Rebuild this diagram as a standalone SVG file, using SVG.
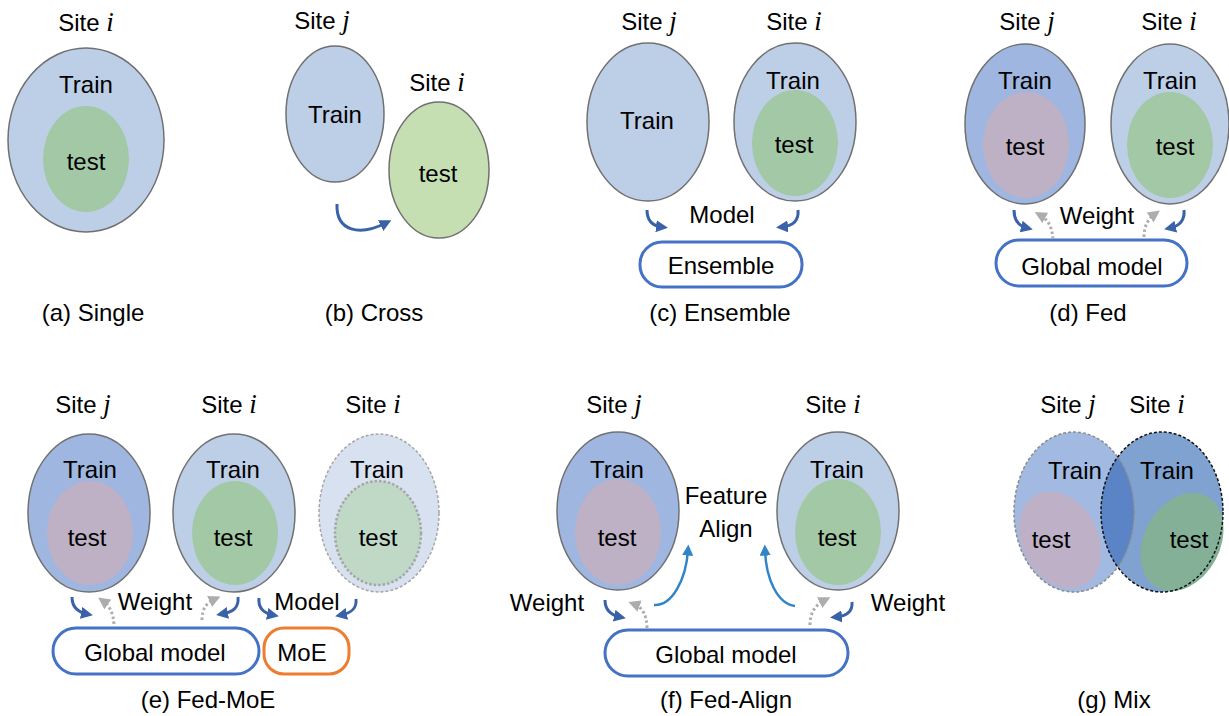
<svg xmlns="http://www.w3.org/2000/svg" width="1229" height="716" viewBox="0 0 1229 716">
<style>
text{font-family:"Liberation Sans",Arial,sans-serif;font-size:24px;fill:#000;text-anchor:middle}
.m{font-family:"Liberation Serif","Times New Roman",serif;font-style:italic;font-size:27px}
.sl{fill:#BDCFE7;stroke:#707070;stroke-width:1.5}
.sd{fill:#9EB6E0;stroke:#707070;stroke-width:1.5}
.tg{fill:#A3C8A6}
.tp{fill:#BEB1C6}
.box{fill:#fff;stroke:#4472C4;stroke-width:3}
.ba{fill:none;stroke:#3A62A8;stroke-width:3;marker-end:url(#ab)}
.ga{fill:none;stroke:#ADADAD;stroke-width:3;stroke-dasharray:2.5 2.5;marker-end:url(#ag)}
.la{fill:none;stroke:#3084C8;stroke-width:2.5;marker-end:url(#al)}
</style>
<defs>
<marker id="ab" viewBox="0 0 10 10" refX="5" refY="5" markerWidth="4" markerHeight="4" orient="auto" markerUnits="strokeWidth"><path d="M0,0 L10,5 L0,10 z" fill="#3A62A8"/></marker>
<marker id="ag" viewBox="0 0 10 10" refX="5" refY="5" markerWidth="4" markerHeight="4" orient="auto" markerUnits="strokeWidth"><path d="M0,0 L10,5 L0,10 z" fill="#ADADAD"/></marker>
<marker id="al" viewBox="0 0 10 10" refX="5" refY="5" markerWidth="4.5" markerHeight="4.5" orient="auto" markerUnits="strokeWidth"><path d="M0,0 L10,5 L0,10 z" fill="#3084C8"/></marker>
<clipPath id="cj"><ellipse cx="1074" cy="512" rx="60" ry="80"/></clipPath>
</defs>

<g id="panel-a">
<text x="86" y="31">Site <tspan class="m">i</tspan></text>
<ellipse class="sl" cx="86" cy="140" rx="78" ry="92"/>
<ellipse class="tg" cx="86" cy="159" rx="43" ry="53"/>
<text x="86" y="93">Train</text>
<text x="86" y="170">test</text>
<text x="93" y="321">(a) Single</text>
</g>

<g id="panel-b">
<text x="322" y="29">Site <tspan class="m">j</tspan></text>
<ellipse class="sl" cx="335" cy="114" rx="49" ry="68"/>
<text x="335" y="123">Train</text>
<text x="437" y="91">Site <tspan class="m">i</tspan></text>
<ellipse cx="439" cy="170" rx="50" ry="68" fill="#C5DFB3" stroke="#707070" stroke-width="1.5"/>
<text x="438" y="182">test</text>
<text x="374" y="321">(b) Cross</text>
</g>

<g id="panel-c">
<text x="649" y="30">Site <tspan class="m">j</tspan></text>
<text x="794" y="30">Site <tspan class="m">i</tspan></text>
<ellipse class="sl" cx="648" cy="122" rx="61" ry="79"/>
<text x="647" y="129">Train</text>
<ellipse class="sl" cx="795" cy="122" rx="61" ry="79"/>
<ellipse class="tg" cx="795" cy="143" rx="43" ry="53"/>
<text x="793" y="89">Train</text>
<text x="794" y="153">test</text>
<text x="722" y="223">Model</text>
<rect class="box" x="640" y="242" width="162" height="45" rx="22"/>
<text x="721" y="274">Ensemble</text>
<text x="720" y="321">(c) Ensemble</text>
</g>

<g id="panel-d">
<text x="1027" y="30">Site <tspan class="m">j</tspan></text>
<text x="1169" y="30">Site <tspan class="m">i</tspan></text>
<ellipse class="sd" cx="1025" cy="124" rx="60" ry="80"/>
<ellipse class="tp" cx="1026" cy="145" rx="43" ry="53"/>
<text x="1025" y="89">Train</text>
<text x="1025" y="155">test</text>
<ellipse class="sl" cx="1170" cy="124" rx="59" ry="80"/>
<ellipse class="tg" cx="1170" cy="145" rx="43" ry="53"/>
<text x="1170" y="89">Train</text>
<text x="1175" y="155">test</text>
<text x="1097" y="224">Weight</text>
<rect class="box" x="996" y="240" width="191" height="46" rx="23"/>
<text x="1092" y="275">Global model</text>
<text x="1088" y="321">(d) Fed</text>
</g>

<g id="panel-e">
<text x="83" y="413">Site <tspan class="m">j</tspan></text>
<text x="229" y="413">Site <tspan class="m">i</tspan></text>
<text x="373" y="413">Site <tspan class="m">i</tspan></text>
<ellipse class="sd" cx="89" cy="513" rx="61" ry="79"/>
<ellipse class="tp" cx="90" cy="533" rx="43" ry="52"/>
<text x="90" y="478">Train</text>
<text x="87" y="546">test</text>
<ellipse class="sl" cx="234" cy="513" rx="61" ry="79"/>
<ellipse class="tg" cx="235" cy="533" rx="43" ry="52"/>
<text x="233" y="478">Train</text>
<text x="233" y="546">test</text>
<ellipse cx="379" cy="513" rx="60" ry="79" fill="#D7E1F0" stroke="#A6A6A6" stroke-width="1.5" stroke-dasharray="3 2"/>
<ellipse cx="378" cy="533" rx="43" ry="52" fill="#C0D8C6" stroke="#A6A6A6" stroke-width="2.5" stroke-dasharray="2.5 2"/>
<text x="377" y="478">Train</text>
<text x="378" y="546">test</text>
<text x="155" y="610">Weight</text>
<text x="307" y="610">Model</text>
<rect class="box" x="53" y="628" width="206" height="46" rx="23"/>
<text x="155" y="661">Global model</text>
<rect x="264" y="628" width="85" height="46" rx="20" fill="#fff" stroke="#ED7D31" stroke-width="3"/>
<text x="302" y="661">MoE</text>
<text x="208" y="708">(e) Fed-MoE</text>
</g>

<g id="panel-f">
<text x="614" y="413">Site <tspan class="m">j</tspan></text>
<text x="833" y="413">Site <tspan class="m">i</tspan></text>
<ellipse class="sd" cx="618" cy="511" rx="61" ry="79"/>
<ellipse class="tp" cx="618" cy="532" rx="43" ry="53"/>
<text x="617" y="478">Train</text>
<text x="617" y="546">test</text>
<ellipse class="sl" cx="838" cy="511" rx="61" ry="79"/>
<ellipse class="tg" cx="838" cy="532" rx="43" ry="53"/>
<text x="837" y="478">Train</text>
<text x="837" y="546">test</text>
<text x="726" y="504">Feature</text>
<text x="726" y="537">Align</text>
<text x="547" y="611">Weight</text>
<text x="908" y="611">Weight</text>
<rect class="box" x="605" y="630" width="243" height="46" rx="23"/>
<text x="726" y="663">Global model</text>
<text x="726" y="708">(f) Fed-Align</text>
</g>

<g id="panel-g">
<text x="1068" y="413">Site <tspan class="m">j</tspan></text>
<text x="1157" y="413">Site <tspan class="m">i</tspan></text>
<ellipse cx="1074" cy="512" rx="60" ry="80" fill="#A2B9E1"/>
<ellipse cx="1162" cy="512" rx="61" ry="80" fill="#7FA2D1"/>
<ellipse cx="1162" cy="512" rx="61" ry="80" fill="#5B84C6" clip-path="url(#cj)"/>
<ellipse cx="1060" cy="540" rx="38" ry="51" transform="rotate(-28 1060 540)" fill="#BEB1C7"/>
<ellipse cx="1182" cy="542" rx="38" ry="52" transform="rotate(28 1182 542)" fill="#84B098"/>
<ellipse cx="1074" cy="512" rx="60" ry="80" fill="none" stroke="#8A8A8A" stroke-width="1.5" stroke-dasharray="3 2"/>
<ellipse cx="1162" cy="512" rx="61" ry="80" fill="none" stroke="#111" stroke-width="1.5" stroke-dasharray="3 2"/>
<text x="1075" y="479">Train</text>
<text x="1167" y="479">Train</text>
<text x="1051" y="548">test</text>
<text x="1189" y="548">test</text>
<text x="1114" y="708">(g) Mix</text>
</g>

<g id="connectors">
<path class="ba" d="M337,204 C336,232 360,236 386,223"/>
<path class="ba" d="M647,210 C647,221 653,226 662,227"/>
<path class="ba" d="M798,210 C799,221 792,226 782,227"/>
<path class="ba" d="M1014,210 C1014,221 1019,226 1027,228"/>
<path class="ba" d="M1184,210 C1185,221 1179,226 1170,228"/>
<path class="ga" d="M1053,239 C1052,228 1049,220 1040,215"/>
<path class="ga" d="M1144,237 C1144,226 1148,219 1155,214"/>
<path class="ba" d="M72,597 C72,607 77,612 87,614"/>
<path class="ba" d="M238,597 C239,608 233,612 222,614"/>
<path class="ga" d="M114,624 C113,613 110,606 103,601"/>
<path class="ga" d="M202,620 C202,609 206,603 215,599"/>
<path class="ba" d="M259,598 C258,608 263,613 273,615"/>
<path class="ba" d="M356,599 C357,609 351,613 341,615"/>
<path class="ba" d="M605,600 C605,610 611,615 620,617"/>
<path class="ba" d="M852,602 C853,612 846,616 836,617"/>
<path class="ga" d="M647,628 C647,615 642,607 634,604"/>
<path class="ga" d="M810,625 C810,613 815,605 825,600"/>
<path class="la" d="M654,605 C672,606 686,580 688,550"/>
<path class="la" d="M795,606 C778,604 766,580 765,550"/>
</g>
</svg>
